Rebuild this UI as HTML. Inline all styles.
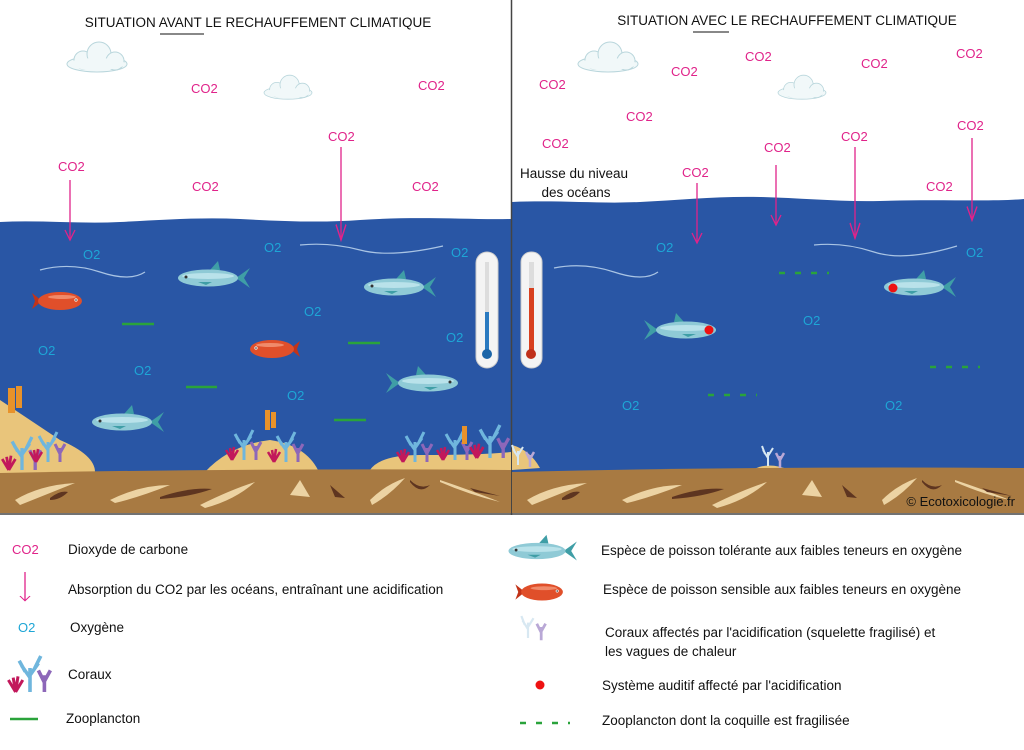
<!DOCTYPE html>
<html><head><meta charset="utf-8"><style>
html,body{margin:0;padding:0;background:#fff}
svg{display:block}
text{font-family:"Liberation Sans",sans-serif}
.co{fill:#e0238a;font-size:13px}
.o2{fill:#1ea6d6;font-size:13px}
.lg{fill:#111;font-size:13.5px}
</style></head><body>
<svg width="1024" height="750" viewBox="0 0 1024 750" xmlns="http://www.w3.org/2000/svg">
<defs>
<g id="bf">
 <path d="M28,0 L42,-10 L36,0 L42,10 Z" fill="#3f9ea6"/>
 <path d="M2,-8 L10,-17 L12,-8 Z" fill="#3f9ea6"/>
 <ellipse cx="0" cy="0" rx="30" ry="8.5" fill="#8fcad6"/>
 <ellipse cx="0" cy="-2" rx="26" ry="3" fill="#b9e2ea"/>
 <path d="M-10,4 L4,4 L-2,7 Z" fill="#3f9ea6"/>
 <circle cx="-22" cy="-1" r="1.5" fill="#333"/>
</g>
<g id="rf">
 <path d="M-18,0 L-28,-8 L-25,0 L-28,8 Z" fill="#c23318"/>
 <ellipse cx="0" cy="0" rx="22" ry="9" fill="#e04f2a"/>
 <ellipse cx="2" cy="-4" rx="14" ry="2" fill="#f08a6a"/>
 <circle cx="16" cy="-1" r="1.6" fill="#fff"/><circle cx="16" cy="-1" r="0.8" fill="#222"/>
</g>
<g id="cl">
 <ellipse cx="0" cy="6" rx="30" ry="8" fill="#f1f8f9" stroke="#b9d6dc"/>
 <circle cx="-14" cy="2" r="9" fill="#f1f8f9" stroke="#b9d6dc"/>
 <circle cx="2" cy="-4" r="12" fill="#f1f8f9" stroke="#b9d6dc"/>
 <circle cx="18" cy="3" r="9" fill="#f1f8f9" stroke="#b9d6dc"/>
 <ellipse cx="0" cy="6" rx="28" ry="6" fill="#f1f8f9"/>
</g>
<g id="ar"><line x1="0" y1="0" x2="0" y2="60" stroke="#e0238a" stroke-width="1.3"/><path d="M-5,50 L0,60 L5,50" fill="none" stroke="#e0238a" stroke-width="1.3"/></g>
<g id="coral">
 <path d="M0,0 L0,-20 M0,-12 L-7,-22 M0,-14 L7,-24 M-4,-17 L-9,-26 M4,-20 L9,-30" stroke="#6fb6dd" stroke-width="3" fill="none"/>
 <path d="M12,0 L12,-14 M12,-8 L7,-18 M12,-9 L17,-18" stroke="#8d67b9" stroke-width="3" fill="none"/>
 <path d="M-12,0 L-14,-12 M-12,0 L-10,-13 M-12,0 L-18,-10 M-12,0 L-6,-10" stroke="#c2185b" stroke-width="2.5" fill="none"/>
</g>
<g id="wcoral">
 <path d="M0,0 L0,-14 M0,-8 L-5,-16 M0,-10 L5,-18 M-3,-12 L-6,-20" stroke="#d8e8f2" stroke-width="2" fill="none"/>
 <path d="M12,2 L12,-10 M12,-5 L8,-13 M12,-6 L16,-13" stroke="#b9a8d6" stroke-width="2.5" fill="none"/>
</g>
</defs>

<rect x="0" y="0" width="1024" height="515" fill="#fff"/>

<!-- water left -->
<path d="M0,222 C40,220 80,224 120,222 C160,220 200,217 240,219 C280,221 320,223 360,220 C420,216 470,220 511,219 L511,478 L0,478 Z" fill="#2956a5"/>
<!-- water right -->
<path d="M512,202 C560,200 600,204 640,202 C680,200 720,196 760,197 C800,198 840,202 880,201 C940,199 990,202 1024,199 L1024,478 L512,478 Z" fill="#2956a5"/>

<line x1="511.5" y1="0" x2="511.5" y2="515" stroke="#444" stroke-width="1.5"/>
<line x1="0" y1="514" x2="1024" y2="514" stroke="#444" stroke-width="1.5"/>

<!-- currents -->
<g fill="none" stroke="#a9c4e4" stroke-width="1.2">
 <path d="M40,270 Q70,262 100,272 T145,272"/>
 <path d="M300,245 Q330,242 360,250 T443,246"/>
 <path d="M554,268 Q584,262 614,272 T658,272"/>
 <path d="M814,245 Q844,242 874,252 T957,246"/>
</g>

<!-- sand mounds -->
<path d="M0,400 Q30,420 60,440 Q95,455 95,472 L0,475 Z" fill="#e9c57b"/>
<path d="M205,472 Q230,445 270,440 Q305,445 318,470 Z" fill="#e9c57b"/>
<path d="M370,470 Q380,455 420,455 Q480,455 511,452 L511,472 Z" fill="#e9c57b"/>
<path d="M512,445 Q530,450 540,468 L512,470 Z" fill="#e9c57b"/>
<path d="M750,472 Q765,460 790,470 Z" fill="#e9c57b"/>

<!-- sediment -->
<path d="M0,473 Q256,468 511,470 L511,513 L0,513 Z" fill="#a87a42"/>
<path d="M512,472 Q760,466 1024,468 L1024,513 L512,513 Z" fill="#a87a42"/>
<g fill="#ecd3a3">
 <path d="M15,500 Q40,485 75,483 Q45,495 20,505Z"/><path d="M110,500 Q140,485 170,485 Q140,497 115,503Z"/>
 <path d="M200,505 Q230,490 255,482 Q235,500 205,508Z"/><path d="M290,495 L300,480 L310,497Z"/>
 <path d="M370,500 Q385,485 405,478 Q390,495 372,505Z"/><path d="M440,480 Q470,490 500,502 Q470,495 440,482Z"/>
 <path d="M527,500 Q552,485 587,483 Q557,495 532,505Z"/><path d="M622,500 Q652,485 682,485 Q652,497 627,503Z"/>
 <path d="M712,505 Q742,490 767,482 Q747,500 717,508Z"/><path d="M802,495 L812,480 L822,497Z"/>
 <path d="M882,500 Q897,485 917,478 Q902,495 884,505Z"/><path d="M955,480 Q985,490 1010,500 Q985,495 955,482Z"/>
</g>
<g fill="#5e3520">
 <path d="M50,498 Q60,490 68,492 Q60,500 50,500Z"/><path d="M160,497 Q190,487 212,489 Q190,497 160,499Z"/>
 <path d="M330,485 L345,498 L335,497Z"/><path d="M410,480 Q420,490 430,485 Q420,495 410,482Z"/><path d="M470,488 L500,496 L475,492Z"/>
 <path d="M562,498 Q572,490 580,492 Q572,500 562,500Z"/><path d="M672,497 Q702,487 724,489 Q702,497 672,499Z"/>
 <path d="M842,485 L857,498 L847,497Z"/><path d="M922,480 Q932,490 942,485 Q932,495 922,482Z"/><path d="M982,488 L1012,496 L987,492Z"/>
</g>

<!-- corals -->
<rect x="8" y="388" width="7" height="25" fill="#e8922a"/><rect x="16" y="386" width="6" height="22" fill="#e8922a"/>
<use href="#coral" transform="translate(22,470) scale(1.1)"/>
<use href="#coral" transform="translate(48,462)"/>
<rect x="265" y="410" width="5" height="20" fill="#e8922a"/><rect x="271" y="412" width="5" height="16" fill="#e8922a"/>
<use href="#coral" transform="translate(244,460)"/><use href="#coral" transform="translate(286,462)"/>
<use href="#coral" transform="translate(415,462)"/><use href="#coral" transform="translate(455,460)"/>
<rect x="462" y="426" width="5" height="18" fill="#e8922a"/>
<use href="#coral" transform="translate(490,458) scale(1.1)"/>
<use href="#wcoral" transform="translate(518,465)"/>
<use href="#wcoral" transform="translate(768,466)"/>

<!-- thermometers -->
<rect x="476" y="252" width="22" height="116" rx="11" fill="#f4f4f4" stroke="#ccc"/>
<rect x="485" y="262" width="4" height="90" fill="#ddd"/>
<rect x="485" y="312" width="4" height="42" fill="#2a7ac0"/><circle cx="487" cy="354" r="5" fill="#1b65a8"/>
<rect x="521" y="252" width="21" height="116" rx="10" fill="#f4f4f4" stroke="#ccc"/>
<rect x="529" y="262" width="5" height="90" fill="#ddd"/>
<rect x="529" y="288" width="5" height="66" fill="#d8401f"/><circle cx="531" cy="354" r="5" fill="#c0301a"/>

<!-- zooplankton -->
<g stroke="#2aa33b" stroke-width="2.5">
 <line x1="122" y1="324" x2="154" y2="324"/><line x1="348" y1="343" x2="380" y2="343"/>
 <line x1="186" y1="387" x2="217" y2="387"/><line x1="334" y1="420" x2="366" y2="420"/>
 <line x1="779" y1="273" x2="829" y2="273" stroke-dasharray="6,10"/>
 <line x1="708" y1="395" x2="757" y2="395" stroke-dasharray="6,10"/>
 <line x1="930" y1="367" x2="980" y2="367" stroke-dasharray="6,10"/>
</g>

<!-- fish -->
<use href="#bf" transform="translate(208,278)"/>
<use href="#bf" transform="translate(394,287)"/>
<use href="#bf" transform="translate(428,383) scale(-1,1)"/>
<use href="#bf" transform="translate(122,422)"/>
<use href="#rf" transform="translate(60,301)"/>
<use href="#rf" transform="translate(272,349) scale(-1,1)"/>
<use href="#bf" transform="translate(686,330) scale(-1,1)"/>
<circle cx="709" cy="330" r="4.5" fill="#ee1111"/>
<use href="#bf" transform="translate(914,287)"/>
<circle cx="893" cy="288" r="4.5" fill="#ee1111"/>

<!-- clouds -->
<use href="#cl" transform="translate(97,58)"/>
<use href="#cl" transform="translate(288,88) scale(0.8)"/>
<use href="#cl" transform="translate(608,58)"/>
<use href="#cl" transform="translate(802,88) scale(0.8)"/>

<!-- titles -->
<text x="258" y="27" text-anchor="middle" font-size="13.5" fill="#111">SITUATION AVANT LE RECHAUFFEMENT CLIMATIQUE</text>
<line x1="160" y1="34" x2="204" y2="34" stroke="#111"/>
<text x="787" y="25" text-anchor="middle" font-size="13.5" fill="#111">SITUATION AVEC LE RECHAUFFEMENT CLIMATIQUE</text>
<line x1="693" y1="32" x2="729" y2="32" stroke="#111"/>

<g class="co">
 <text x="191" y="93">CO2</text><text x="418" y="90">CO2</text><text x="58" y="171">CO2</text>
 <text x="328" y="141">CO2</text><text x="192" y="191">CO2</text><text x="412" y="191">CO2</text>
 <text x="539" y="89">CO2</text><text x="671" y="76">CO2</text><text x="745" y="61">CO2</text>
 <text x="861" y="68">CO2</text><text x="956" y="58">CO2</text><text x="542" y="148">CO2</text>
 <text x="626" y="121">CO2</text><text x="764" y="152">CO2</text><text x="841" y="141">CO2</text>
 <text x="957" y="130">CO2</text><text x="682" y="177">CO2</text><text x="926" y="191">CO2</text>
</g>
<use href="#ar" transform="translate(70,180)"/>
<use href="#ar" transform="translate(341,147) scale(1,1.55)"/>
<use href="#ar" transform="translate(697,183)"/>
<use href="#ar" transform="translate(776,165)"/>
<use href="#ar" transform="translate(855,147) scale(1,1.52)"/>
<use href="#ar" transform="translate(972,138) scale(1,1.37)"/>

<text x="574" y="178" text-anchor="middle" font-size="13.5" fill="#111">Hausse du niveau</text>
<text x="576" y="197" text-anchor="middle" font-size="13.5" fill="#111">des océans</text>

<g class="o2">
 <text x="83" y="259">O2</text><text x="264" y="252">O2</text><text x="451" y="257">O2</text>
 <text x="134" y="375">O2</text><text x="38" y="355">O2</text><text x="304" y="316">O2</text>
 <text x="446" y="342">O2</text><text x="287" y="400">O2</text>
 <text x="656" y="252">O2</text><text x="966" y="257">O2</text><text x="803" y="325">O2</text>
 <text x="622" y="410">O2</text><text x="885" y="410">O2</text>
</g>
<text x="1015" y="506" text-anchor="end" font-size="13" fill="#111">© Ecotoxicologie.fr</text>

<!-- legend left -->
<text x="12" y="554" class="co">CO2</text>
<text x="68" y="554" class="lg">Dioxyde de carbone</text>
<use href="#ar" transform="translate(25,572) scale(1,0.48)"/>
<text x="68" y="594" class="lg">Absorption du CO2 par les océans, entraînant une acidification</text>
<text x="18" y="632" class="o2">O2</text>
<text x="70" y="632" class="lg">Oxygène</text>
<use href="#coral" transform="translate(30,692) scale(1.2)"/>
<text x="68" y="679" class="lg">Coraux</text>
<line x1="10" y1="719" x2="38" y2="719" stroke="#2aa33b" stroke-width="2.5"/>
<text x="66" y="723" class="lg">Zooplancton</text>

<!-- legend right -->
<use href="#bf" transform="translate(537,551) scale(0.95)"/>
<text x="601" y="555" class="lg">Espèce de poisson tolérante aux faibles teneurs en oxygène</text>
<use href="#rf" transform="translate(542,592) scale(0.95)"/>
<text x="603" y="594" class="lg">Espèce de poisson sensible aux faibles teneurs en oxygène</text>
<use href="#wcoral" transform="translate(528,638) scale(1.1)"/>
<text x="605" y="637" class="lg">Coraux affectés par l'acidification (squelette fragilisé) et</text>
<text x="605" y="656" class="lg">les vagues de chaleur</text>
<circle cx="540" cy="685" r="4.5" fill="#ee1111"/>
<text x="602" y="690" class="lg">Système auditif affecté par l'acidification</text>
<line x1="520" y1="723" x2="570" y2="723" stroke="#2aa33b" stroke-width="2.5" stroke-dasharray="6,10"/>
<text x="602" y="725" class="lg">Zooplancton dont la coquille est fragilisée</text>
</svg>
</body></html>
